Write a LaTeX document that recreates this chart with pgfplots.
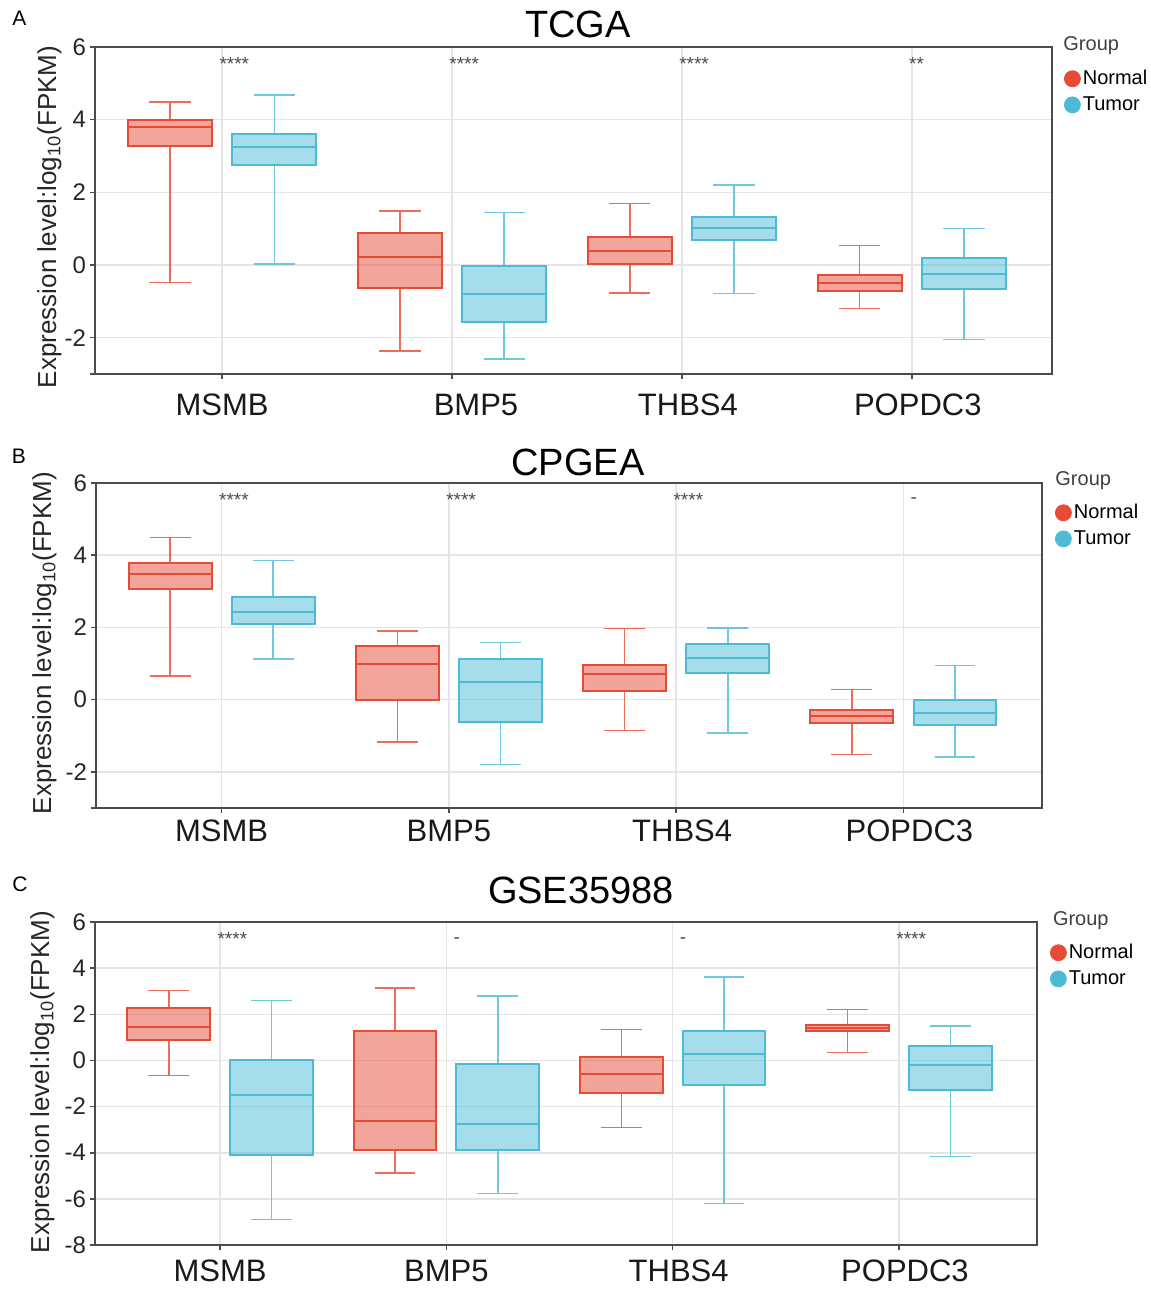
\documentclass[border=0pt]{standalone}
\usepackage{fontspec}
\setmainfont{Liberation Sans}
\usepackage{pgfplots}
\pgfplotsset{compat=1.18}
\usepgfplotslibrary{statistics}

\definecolor{nred}{HTML}{E64B35}
\definecolor{tblue}{HTML}{4DBBD5}

% one box: draw position, lower whisker, lower quartile, median, upper quartile, upper whisker
\newcommand{\nbox}[6]{\addplot[nbox, boxplot prepared={draw position=#1, lower whisker=#2, lower quartile=#3, median=#4, upper quartile=#5, upper whisker=#6}] coordinates {};}
\newcommand{\tbox}[6]{\addplot[tbox, boxplot prepared={draw position=#1, lower whisker=#2, lower quartile=#3, median=#4, upper quartile=#5, upper whisker=#6}] coordinates {};}

\tikzset{sigstar/.style={anchor=west, inner sep=0pt, font=\fontsize{9.5}{10}\selectfont, text=black!70}}

\pgfplotsset{
  nbox/.style={draw=nred, fill=nred, fill opacity=0.5, line width=1pt, solid, mark=none, forget plot},
  tbox/.style={draw=tblue, fill=tblue, fill opacity=0.5, line width=1pt, solid, mark=none, forget plot},
  panel/.style={
    scale only axis, anchor=south west,
    xmin=-0.553, xmax=3.61,
    xtick={0,1,2,3},
    xtick pos=bottom, ytick pos=left, tick align=outside,
    major tick length=2.5pt,
    every tick/.style={black!70, line width=0.8pt},
    axis line style={black!70, line width=1pt},
    grid=major, major grid style={black!10, line width=0.8pt},
    xticklabel style={font=\fontsize{15.5}{16}\selectfont, text=black!90},
    yticklabel style={font=\fontsize{12}{13}\selectfont, text=black!85, xshift=1.5pt},
    boxplot/draw direction=y,
    boxplot/box extend=0.365, boxplot/whisker extend=0.18,
    boxplot/every whisker/.style={line width=0.8pt, draw opacity=0.8},
    boxplot/every median/.style={line width=1pt},
    legend style={anchor=north west, draw=none, fill=none, inner sep=0pt, outer sep=0pt,
      font=\fontsize{10}{12}\selectfont, row sep=3.5pt,
      nodes={inner xsep=1pt, inner ysep=0.5pt}},
    legend cell align=left,
    legend image code/.code={\fill[#1] (4pt,0pt) circle (4pt);},
  },
}

\begin{document}
\begin{tikzpicture}
\useasboundingbox (0,0) rectangle (575.5pt,-645.5pt);

% ---------------- TCGA ----------------
\begin{axis}[panel, at={(47.5pt,-187pt)}, width=478.5pt, height=163.5pt,
  ymin=-3, ymax=6, ytick={-3,-2,0,2,4,6}, yticklabels={,-2,0,2,4,6},
  xticklabels={MSMB,\hspace*{24pt}BMP5,\hspace*{6pt}THBS4,\hspace*{6pt}POPDC3},
  xticklabel style={yshift=-3.8pt},
  legend style={at={(1,1)}, xshift=6pt, yshift=-11pt}]
\addlegendimage{nred}\addlegendentry{Normal}
\addlegendimage{tblue}\addlegendentry{Tumor}
\nbox{-0.227}{-0.48}{3.27}{3.80}{3.98}{4.49}
\tbox{0.227}{0.03}{2.75}{3.24}{3.60}{4.68}
\nbox{0.773}{-2.36}{-0.62}{0.21}{0.89}{1.48}
\tbox{1.227}{-2.59}{-1.57}{-0.79}{-0.03}{1.45}
\nbox{1.773}{-0.77}{0.03}{0.38}{0.76}{1.69}
\tbox{2.227}{-0.78}{0.70}{1.03}{1.32}{2.21}
\nbox{2.773}{-1.20}{-0.71}{-0.49}{-0.28}{0.54}
\tbox{3.227}{-2.05}{-0.67}{-0.25}{0.20}{1.00}
\node[sigstar] at (axis cs:-0.013,5.52) {****};
\node[sigstar] at (axis cs:0.987,5.52) {****};
\node[sigstar] at (axis cs:1.987,5.52) {****};
\node[sigstar] at (axis cs:2.987,5.52) {**};
\end{axis}

% ---------------- CPGEA ----------------
\begin{axis}[panel, at={(48pt,-404pt)}, width=473pt, height=162.5pt,
  ymin=-3, ymax=6, ytick={-3,-2,0,2,4,6}, yticklabels={,-2,0,2,4,6},
  xticklabels={MSMB,BMP5,\hspace*{6pt}THBS4,\hspace*{6pt}POPDC3},
  legend style={at={(1,1)}, xshift=6.5pt, yshift=-10pt}]
\addlegendimage{nred}\addlegendentry{Normal}
\addlegendimage{tblue}\addlegendentry{Tumor}
\nbox{-0.227}{0.66}{3.06}{3.48}{3.78}{4.49}
\tbox{0.227}{1.12}{2.09}{2.42}{2.85}{3.85}
\nbox{0.773}{-1.17}{0.00}{1.00}{1.50}{1.90}
\tbox{1.227}{-1.79}{-0.62}{0.49}{1.14}{1.58}
\nbox{1.773}{-0.85}{0.25}{0.70}{0.95}{1.97}
\tbox{2.227}{-0.93}{0.73}{1.16}{1.53}{1.98}
\nbox{2.773}{-1.52}{-0.64}{-0.45}{-0.28}{0.28}
\tbox{3.227}{-1.59}{-0.70}{-0.36}{0.00}{0.95}
\node[sigstar] at (axis cs:-0.013,5.53) {****};
\node[sigstar] at (axis cs:0.987,5.53) {****};
\node[sigstar] at (axis cs:1.987,5.53) {****};
\node[sigstar] at (axis cs:3.03,5.5) {-};
\end{axis}

% ---------------- GSE35988 ----------------
\begin{axis}[panel, at={(47.5pt,-622.5pt)}, width=471pt, height=161.5pt,
  ymin=-8, ymax=6, ytick={-8,-6,-4,-2,0,2,4,6}, yticklabels={-8,-6,-4,-2,0,2,4,6},
  xticklabels={MSMB,BMP5,\hspace*{6pt}THBS4,\hspace*{6pt}POPDC3},
  xticklabel style={yshift=-1.3pt},
  legend style={at={(1,1)}, xshift=6.5pt, yshift=-10.5pt}]
\addlegendimage{nred}\addlegendentry{Normal}
\addlegendimage{tblue}\addlegendentry{Tumor}
\nbox{-0.227}{-0.66}{0.88}{1.43}{2.28}{3.03}
\tbox{0.227}{-6.89}{-4.09}{-1.49}{0.00}{2.59}
\nbox{0.773}{-4.87}{-3.86}{-2.64}{1.26}{3.14}
\tbox{1.227}{-5.76}{-3.86}{-2.76}{-0.16}{2.80}
\nbox{1.773}{-2.90}{-1.40}{-0.58}{0.13}{1.34}
\tbox{2.227}{-6.20}{-1.07}{0.28}{1.26}{3.61}
\nbox{2.773}{0.35}{1.27}{1.40}{1.53}{2.21}
\tbox{3.227}{-4.16}{-1.27}{-0.19}{0.61}{1.50}
\node[sigstar] at (axis cs:-0.013,5.25) {****};
\node[sigstar] at (axis cs:1.03,5.2) {-};
\node[sigstar] at (axis cs:2.03,5.2) {-};
\node[sigstar] at (axis cs:2.987,5.25) {****};
\end{axis}

% titles
\node[font=\fontsize{19}{20}\selectfont] at (289pt,-12pt) {TCGA};
\node[font=\fontsize{19}{20}\selectfont] at (289pt,-231pt) {CPGEA};
\node[font=\fontsize{19}{20}\selectfont] at (290.5pt,-445pt) {GSE35988};

% panel letters
\node[font=\fontsize{10.5}{11}\selectfont] at (9.75pt,-9pt) {A};
\node[font=\fontsize{10.5}{11}\selectfont] at (9.5pt,-228pt) {B};
\node[font=\fontsize{10.5}{11}\selectfont] at (10pt,-442.25pt) {C};

% y-axis titles
\node[rotate=90, anchor=base, font=\fontsize{13}{14}\selectfont, text=black!85] at (28pt,-108.5pt) {Expression level:log\textsubscript{10}(FPKM)};
\node[rotate=90, anchor=base, font=\fontsize{13}{14}\selectfont, text=black!85] at (25.5pt,-321.5pt) {Expression level:log\textsubscript{10}(FPKM)};
\node[rotate=90, anchor=base, font=\fontsize{13}{14}\selectfont, text=black!85] at (24.5pt,-541pt) {Expression level:log\textsubscript{10}(FPKM)};

% legend titles
\node[anchor=west, inner sep=0pt, font=\fontsize{10}{12}\selectfont, text=black!75] at (531.5pt,-23pt) {Group};
\node[anchor=west, inner sep=0pt, font=\fontsize{10}{12}\selectfont, text=black!75] at (527.5pt,-240.5pt) {Group};
\node[anchor=west, inner sep=0pt, font=\fontsize{10}{12}\selectfont, text=black!75] at (526.3pt,-460.3pt) {Group};
\end{tikzpicture}
\end{document}
